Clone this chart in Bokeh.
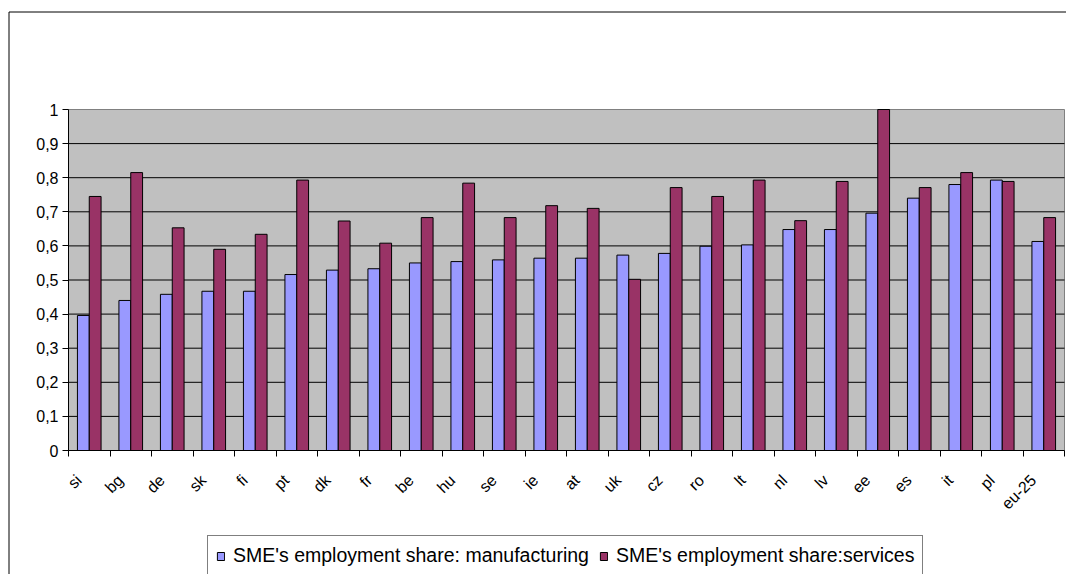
import math
from bokeh.plotting import figure
from bokeh.models import (ColumnDataSource, FixedTicker, Legend, LegendItem, Range1d,
                          BoxAnnotation)
from bokeh.transform import dodge
from bokeh.embed import file_html
from bokeh.resources import INLINE

categories = ["si", "bg", "de", "sk", "fi", "pt", "dk", "fr", "be", "hu", "se", "ie",
              "at", "uk", "cz", "ro", "lt", "nl", "lv", "ee", "es", "it", "pl", "eu-25"]
manufacturing = [0.396, 0.440, 0.458, 0.467, 0.467, 0.516, 0.529, 0.533, 0.550, 0.554,
                 0.559, 0.564, 0.564, 0.573, 0.578, 0.599, 0.603, 0.648, 0.648, 0.696,
                 0.740, 0.780, 0.793, 0.613]
services = [0.745, 0.815, 0.653, 0.590, 0.634, 0.793, 0.673, 0.608, 0.683, 0.784,
            0.683, 0.718, 0.710, 0.502, 0.771, 0.745, 0.793, 0.674, 0.789, 1.000,
            0.771, 0.815, 0.789, 0.683]
y_ticks = [0, 0.1, 0.2, 0.3, 0.4, 0.5, 0.6, 0.7, 0.8, 0.9, 1]
y_tick_labels = ["0", "0,1", "0,2", "0,3", "0,4", "0,5", "0,6", "0,7", "0,8", "0,9", "1"]
series_names = ["SME's employment share: manufacturing", "SME's employment share:services"]

FONT = "Liberation Sans"
W, H = 1066, 574
n = len(categories)

# pixel layout of the plot area inside the canvas
PX_L, PX_R, PX_T, PX_B = 68, 1064, 109, 450
sx = (PX_R - PX_L) / n
sy = (PX_B - PX_T) / (y_ticks[-1] - y_ticks[0])
x_range = Range1d(-PX_L / sx, (W - PX_L) / sx)
y_range = Range1d(-(H - PX_B) / sy, PX_B / sy)

pos = [i + 0.5 for i in range(n)]
src = ColumnDataSource(dict(x=pos, cat=categories, man=manufacturing, serv=services))

p = figure(width=W, height=H, output_backend="svg", toolbar_location=None,
           x_range=x_range, y_range=y_range,
           min_border=0, min_border_left=0, min_border_right=0,
           min_border_top=0, min_border_bottom=0)
p.background_fill_color = "white"
p.border_fill_color = "white"
p.outline_line_color = None
p.grid.visible = False

# plot area
p.quad(left=0, right=n, bottom=y_ticks[0], top=y_ticks[-1], fill_color="#C0C0C0",
       line_color="#808080", line_width=1, level="image")
# horizontal gridlines
grid_y = y_ticks[1:-1]
p.segment(x0=[0] * len(grid_y), x1=[n] * len(grid_y), y0=grid_y, y1=grid_y,
          line_color="black", line_width=1, level="underlay")

r1 = p.vbar(x=dodge("x", -0.1425, range=p.x_range), top="man", width=0.285, source=src,
            fill_color="#9999FF", line_color="black", line_width=1)
r2 = p.vbar(x=dodge("x", 0.1425, range=p.x_range), top="serv", width=0.285, source=src,
            fill_color="#993366", line_color="black", line_width=1)

# outer chart border (left and top edges visible)
p.add_layout(BoxAnnotation(left=8.5, right=1090, top=11.5, bottom=620,
                           left_units="canvas", right_units="canvas",
                           top_units="canvas", bottom_units="canvas",
                           fill_alpha=0, line_color="black", line_alpha=1, line_width=1))

# y axis
p.yaxis.fixed_location = 0
p.yaxis.bounds = (y_ticks[0], y_ticks[-1])
p.yaxis.ticker = FixedTicker(ticks=y_ticks)
p.yaxis.major_label_overrides = {t: l for t, l in zip(y_ticks, y_tick_labels)}
p.yaxis.major_tick_out = 6
p.yaxis.major_tick_in = 0
p.yaxis.minor_tick_line_color = None
p.yaxis.major_label_standoff = 4
p.yaxis.axis_line_color = "black"
p.yaxis.major_tick_line_color = "black"

# x axis (labels anchored slightly left of the category centre, like Excel)
label_pos = [i + 0.25 for i in range(n)]
p.xaxis.fixed_location = 0
p.xaxis.bounds = (0, n)
p.xaxis.ticker = FixedTicker(ticks=label_pos, minor_ticks=list(range(n + 1)))
p.xaxis.major_label_overrides = {x: c for x, c in zip(label_pos, categories)}
p.xaxis.major_tick_out = 0
p.xaxis.major_tick_in = 0
p.xaxis.minor_tick_out = 6
p.xaxis.minor_tick_in = 0
p.xaxis.minor_tick_line_color = "black"
p.xaxis.major_label_orientation = math.pi / 4
p.xaxis.major_label_standoff = 21
p.xaxis.axis_line_color = "black"

for ax in (p.xaxis, p.yaxis):
    ax.major_label_text_font = FONT
    ax.major_label_text_font_size = "16px"
    ax.major_label_text_color = "black"

legend = Legend(items=[LegendItem(label=series_names[0], renderers=[r1]),
                       LegendItem(label=series_names[1], renderers=[r2])],
                orientation="horizontal", location=(207, -2))
legend.label_text_font = FONT
legend.label_text_font_size = "19.5px"
legend.label_text_color = "black"
legend.label_text_baseline = "alphabetic"
legend.label_height = 20
legend.glyph_width = 9
legend.glyph_height = 10
legend.label_standoff = 8
legend.spacing = 10
legend.padding = 8
legend.margin = 0
legend.border_line_color = "black"
legend.border_line_width = 1
legend.background_fill_color = "white"
legend.background_fill_alpha = 1
p.add_layout(legend, "center")

open("out.html", "w").write(file_html(p, INLINE))
